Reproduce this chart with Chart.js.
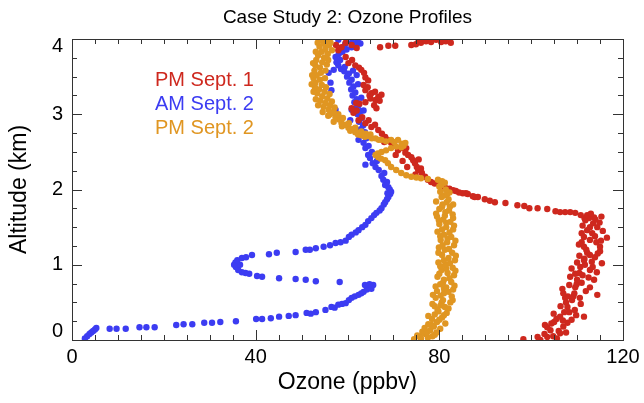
<!DOCTYPE html>
<html>
<head>
<meta charset="utf-8">
<script src="https://cdn.jsdelivr.net/npm/chart.js@4"></script>
<style>
  html, body { margin: 0; padding: 0; background: #fff; }
  #wrap { width: 644px; height: 403px; }
</style>
</head>
<body>
<div id="wrap"><canvas id="ozoneChart"></canvas></div>
<script>
// Ozone profiles, [ozone ppbv, altitude km]
const chartTitle = 'Case Study 2: Ozone Profiles';
const seriesNames = ['PM Sept. 1', 'AM Sept. 2', 'PM Sept. 2'];
const seriesColors = ['rgb(206,40,30)', 'rgb(60,60,242)', 'rgb(224,150,34)'];
const xTicks = [0, 40, 80, 120];
const yTicks = [0, 1, 2, 3, 4];

const sept1PM = [
    [98.3,0.01],[102.0,0.00],[101.4,0.04],[105.6,0.02],[103.5,0.04],[102.9,0.08],[104.8,0.05],[104.2,0.13],
    [106.0,0.12],[106.3,0.09],[107.6,0.10],[103.0,0.20],[103.5,0.17],[107.0,0.18],[104.4,0.22],[105.0,0.24],
    [107.9,0.23],[106.9,0.26],[105.5,0.28],[108.8,0.27],[106.3,0.31],[111.5,0.31],[109.8,0.33],[104.9,0.35],
    [107.2,0.37],[108.3,0.37],[109.5,0.40],[107.9,0.44],[106.4,0.45],[110.8,0.48],[107.6,0.50],[108.9,0.53],
    [107.4,0.56],[110.6,0.56],[108.0,0.58],[109.2,0.58],[114.4,0.60],[107.0,0.62],[109.4,0.62],[111.9,0.65],
    [106.8,0.68],[109.6,0.70],[112.8,0.70],[108.3,0.73],[109.9,0.74],[111.0,0.76],[110.0,0.80],[113.7,0.80],
    [112.5,0.83],[108.5,0.84],[111.2,0.86],[109.6,0.88],[110.5,0.89],[114.3,0.90],[112.8,0.93],[108.8,0.95],
    [110.7,0.97],[113.4,0.97],[111.7,1.00],[115.4,1.02],[110.0,1.03],[113.2,1.04],[111.5,1.06],[111.6,1.08],
    [113.9,1.10],[110.5,1.12],[112.8,1.13],[114.5,1.15],[112.2,1.16],[115.0,1.18],[112.0,1.20],[111.5,1.24],
    [115.0,1.24],[110.4,1.27],[114.2,1.30],[111.0,1.30],[115.2,1.32],[112.8,1.33],[111.5,1.37],[116.5,1.36],
    [113.9,1.38],[113.3,1.42],[111.0,1.42],[115.6,1.45],[112.2,1.46],[114.4,1.50],[112.8,1.50],[111.2,1.52],
    [113.5,1.55],[114.9,1.56],[111.8,1.59],[114.0,1.60],[112.6,1.62],[111.6,1.62],[113.7,1.63],[115.3,1.64],
    [110.8,1.66],[112.2,1.66],[113.0,1.68],
    [109.6,1.69],[108.5,1.70],[107.4,1.70],[106.3,1.70],[105.3,1.71],[103.5,1.74],[101.4,1.75],[99.6,1.75],
    [98.5,1.78],[97.0,1.79],[94.4,1.82],[92.1,1.83],[91.0,1.85],[89.9,1.87],[88.4,1.90],[87.7,1.90],
    [87.3,1.91],[86.2,1.94],[85.8,1.95],[85.1,1.95],[84.3,1.96],[83.6,1.98],[83.0,1.99],[82.2,2.01],
    [81.2,2.03],[80.1,2.06],[79.0,2.08],[78.2,2.10],[77.5,2.13],[76.9,2.17],[76.2,2.22],[74.8,2.20],
    [75.4,2.26],[76.0,2.28],[73.0,2.30],[75.1,2.30],[74.7,2.35],[72.0,2.38],[74.3,2.39],[75.5,2.40],
    [73.9,2.43],[73.2,2.46],[70.5,2.46],[72.6,2.49],[71.0,2.52],[71.8,2.55],[72.8,2.55],[70.3,2.58],
    [69.5,2.62],[68.0,2.63],[68.9,2.66],[68.2,2.70],[67.5,2.74],[66.7,2.79],[66.0,2.86],[65.2,2.83],
    [63.9,2.88],[64.6,2.92],[62.4,2.92],[63.2,2.96],[61.3,3.02],[62.0,3.05],[60.9,3.08],[66.3,3.08],
    [65.8,3.12],[62.6,3.14],[61.9,3.15],[63.9,3.16],[67.0,3.18],[66.1,3.19],[65.0,3.21],[66.7,3.23],
    [64.8,3.25],[67.4,3.26],[65.2,3.28],[66.0,3.30],[63.9,3.32],[64.4,3.36],[63.5,3.39],[64.5,3.45],
    [63.9,3.49],[63.6,3.55],[63.0,3.59],[62.5,3.62],[61.7,3.65],[60.2,3.68],[61.0,3.72],[59.6,3.76],
    [58.0,3.85],[58.7,3.89],[62.0,3.88],[57.5,3.92],[60.9,3.92],[59.6,3.95],
    [67.1,3.89],[68.9,3.91],[70.4,3.91],[73.9,3.92],[74.9,3.93],[76.0,3.95],[77.1,3.97],[75.5,3.98],
    [78.2,3.96],[79.3,3.99],[80.4,3.96],[81.4,3.97],[82.5,3.95]
];

const sept2AM = [
    [2.8,0.02],[3.3,0.05],[3.8,0.08],[4.2,0.10],[4.6,0.12],[5.0,0.14],[5.3,0.16],[8.2,0.15],
    [9.7,0.15],[11.7,0.15],[14.7,0.17],[16.2,0.17],[18.0,0.17],[22.7,0.20],[24.3,0.21],[26.2,0.21],
    [28.8,0.23],[30.5,0.23],[32.3,0.24],[35.7,0.25],[40.1,0.28],[41.4,0.28],[43.3,0.29],[45.1,0.31],
    [47.2,0.32],[48.7,0.33],[51.1,0.36],[52.0,0.35],[53.1,0.37],[55.2,0.40],[56.5,0.44],[57.2,0.43],
    [58.0,0.47],[58.8,0.48],[59.6,0.49],[60.3,0.53],[60.9,0.56],[61.6,0.58],[62.4,0.60],[63.0,0.62],
    [63.5,0.64],[64.2,0.67],[64.5,0.70],[65.2,0.68],[65.6,0.73],[64.8,0.74],[63.8,0.73],
    [58.3,0.77],[53.1,0.78],[50.9,0.80],[48.7,0.81],[45.1,0.82],[41.4,0.84],[40.3,0.85],[38.6,0.88],
    [37.8,0.89],[37.0,0.90],[36.2,0.93],[35.7,0.97],[35.3,1.00],[36.6,1.00],[35.6,1.03],[36.0,1.06],
    [37.0,1.09],[37.9,1.10],[39.2,1.13],[42.9,1.14],[44.6,1.16],[48.7,1.17],[50.9,1.20],[51.8,1.20],
    [53.1,1.22],[54.8,1.24],[56.2,1.26],[57.4,1.29],[58.5,1.30],[59.6,1.32],[60.3,1.37],[60.9,1.40],
    [61.8,1.43],[62.4,1.46],[63.2,1.50],[63.9,1.53],[64.5,1.58],[65.2,1.62],[65.8,1.66],[66.3,1.69],
    [67.0,1.72],[67.4,1.75],[67.9,1.80],[68.2,1.83],[68.6,1.87],[68.9,1.90],[69.3,1.94],[68.7,1.95],
    [69.5,1.97],[69.2,2.00],[68.9,2.03],[68.2,2.06],[68.6,2.10],[67.8,2.13],[67.4,2.18],[68.0,2.22],
    [66.8,2.26],[66.1,2.30],[63.9,2.33],[65.5,2.35],[66.4,2.38],[64.9,2.42],[64.5,2.46],[65.3,2.50],
    [63.9,2.55],[64.6,2.58],[63.5,2.62],[62.4,2.66],[64.1,2.68],[63.2,2.72],[63.8,2.76],[62.9,2.80],
    [63.4,2.85],[62.5,2.90],[60.6,2.92],[63.1,2.95],[62.2,3.00],[63.5,3.05],[62.8,3.04],[60.9,3.06],
    [57.4,3.06],[61.8,3.08],[62.4,3.12],[61.5,3.16],[62.0,3.20],[63.0,3.22],[61.1,3.25],[61.7,3.29],
    [56.5,3.32],[60.8,3.33],[61.3,3.37],[62.3,3.40],[60.4,3.42],[56.3,3.42],[60.9,3.46],[59.9,3.50],
    [62.0,3.52],[60.3,3.54],[55.9,3.55],[59.3,3.57],[61.2,3.58],[57.0,3.59],[58.6,3.60],[59.4,3.63],
    [58.0,3.65],[57.6,3.69],[58.4,3.72],[57.4,3.76],[58.1,3.80],[58.9,3.83],[59.8,3.86],[60.9,3.89],
    [61.8,3.91],[62.8,3.94],[59.5,3.93],[61.0,3.96],[62.2,3.97],[58.0,3.99]
];

const sept2PM = [
    [74.5,0.01],[76.0,0.02],[77.5,0.03],[75.8,0.04],[78.5,0.05],[75.2,0.06],[79.0,0.07],[77.0,0.08],
    [79.4,0.10],[77.3,0.10],[76.3,0.11],[78.0,0.13],[80.2,0.15],[76.8,0.16],[78.8,0.18],[78.3,0.20],
    [77.6,0.21],[81.3,0.22],[79.5,0.24],[80.0,0.27],[78.4,0.28],[80.6,0.30],[77.6,0.32],[81.0,0.33],
    [79.0,0.34],[81.6,0.36],[79.8,0.38],[79.6,0.40],[82.0,0.42],[81.2,0.44],[79.0,0.45],[80.3,0.46],
    [78.5,0.48],[82.4,0.50],[80.5,0.50],[80.8,0.53],[82.9,0.53],[79.2,0.56],[82.7,0.58],[80.3,0.59],
    [78.6,0.60],[81.0,0.62],[82.0,0.64],[79.5,0.65],[83.0,0.67],[81.0,0.68],[81.5,0.70],[79.2,0.71],
    [83.3,0.72],[80.2,0.74],[80.8,0.76],[82.6,0.77],[81.0,0.80],[82.2,0.82],[79.6,0.84],[83.2,0.86],
    [80.0,0.88],[81.8,0.89],[83.5,0.92],[80.5,0.93],[81.5,0.95],[82.9,0.96],[80.2,0.98],[81.3,1.00],
    [82.3,1.02],[79.8,1.03],[83.4,1.06],[81.0,1.06],[82.0,1.09],[83.6,1.12],[80.6,1.13],[82.8,1.16],
    [79.8,1.16],[81.2,1.20],[82.1,1.21],[79.9,1.23],[83.2,1.26],[80.7,1.26],[81.7,1.30],[83.5,1.32],
    [80.3,1.33],[81.8,1.35],[82.6,1.37],[80.2,1.38],[81.0,1.40],[82.2,1.43],[79.6,1.44],[83.0,1.47],
    [80.6,1.47],[81.5,1.50],[83.2,1.52],[80.0,1.54],[81.5,1.56],[82.4,1.57],[79.9,1.59],[80.8,1.60],
    [83.0,1.62],[79.5,1.64],[81.2,1.65],[82.9,1.67],[79.3,1.68],[81.3,1.70],[82.1,1.72],[80.0,1.74],
    [80.6,1.77],[82.3,1.77],[80.7,1.80],[83.0,1.80],[81.6,1.83],[79.3,1.84],[82.0,1.87],[80.5,1.90],
    [80.9,1.92],[81.7,1.94],[82.2,1.96],[80.2,1.97],[81.4,2.00],[80.0,2.04],[80.4,2.06],
    [81.2,2.09],[80.6,2.11],[79.7,2.13],[77.5,2.14],[76.0,2.15],[75.0,2.16],[73.9,2.17],[72.8,2.19],
    [71.7,2.22],[70.6,2.26],[69.5,2.30],[68.8,2.35],[68.2,2.39],[67.3,2.41],[66.7,2.43],[66.1,2.46],
    [66.6,2.48],[67.4,2.50],[68.4,2.52],[69.5,2.55],[70.6,2.57],[71.7,2.56],[72.2,2.58],[71.8,2.61],
    [72.6,2.62],[70.2,2.63],[68.4,2.64],[69.5,2.66],[71.0,2.66],[67.4,2.66],[66.8,2.66],[66.1,2.68],
    [65.3,2.68],[64.5,2.71],[65.0,2.73],[63.8,2.70],[64.0,2.74],[63.0,2.72],[62.3,2.73],[62.4,2.75],
    [61.7,2.76],[63.0,2.77],[60.6,2.78],[61.0,2.80],[61.7,2.82],[60.2,2.82],[58.8,2.84],[59.6,2.86],
    [58.7,2.88],[60.3,2.88],[57.0,2.90],[58.2,2.93],[59.0,2.95],[57.4,2.96],[55.8,2.98],[56.2,3.00],
    [58.0,3.00],[57.0,3.03],[54.6,3.03],[55.9,3.06],[57.2,3.09],[54.8,3.10],[56.2,3.12],[53.6,3.12],
    [55.2,3.15],[56.6,3.17],[54.1,3.18],[53.1,3.20],[55.6,3.21],[54.5,3.24],[56.1,3.27],[53.4,3.28],
    [55.0,3.30],[52.6,3.30],[53.8,3.33],[52.9,3.36],[55.3,3.36],[54.4,3.39],[52.2,3.40],[53.0,3.42],
    [54.0,3.46],[55.1,3.48],[52.6,3.48],[53.3,3.52],[52.3,3.52],[54.2,3.55],[52.8,3.58],[55.2,3.58],
    [54.0,3.62],[53.0,3.65],[55.5,3.66],[52.5,3.68],[54.5,3.69],[53.2,3.72],[55.8,3.72],[54.9,3.75],
    [53.6,3.78],[55.7,3.80],[54.4,3.83],[53.1,3.83],[56.6,3.85],[55.2,3.87],[53.9,3.90],[56.0,3.92],
    [54.8,3.94],[53.5,3.95],[56.3,3.95],[55.6,3.98],[54.3,3.99]
];

const toPoints = arr => arr.map(([x, y]) => ({ x: x, y: y }));
const fontFamily = '"Liberation Sans", Arial, sans-serif';

// frame, inward ticks on all four sides, y labels, title and series names (IDL style)
const idlFrame = {
    id: 'idlFrame',
    afterDraw(chart) {
        const { ctx, chartArea: a, scales: { x, y } } = chart;
        ctx.save();
        ctx.strokeStyle = '#333';
        ctx.lineWidth = 1;
        ctx.strokeRect(a.left + 0.5, a.top + 0.5, a.right - a.left, a.bottom - a.top);
        ctx.beginPath();
        for (let v = x.min; v <= x.max; v += 5) {
            const px = Math.round(x.getPixelForValue(v)) + 0.5;
            const len = xTicks.includes(v) ? 10 : 5;
            ctx.moveTo(px, a.bottom); ctx.lineTo(px, a.bottom - len);
            ctx.moveTo(px, a.top); ctx.lineTo(px, a.top + len);
        }
        for (let v = y.min; v <= y.max + 1e-9; v += 0.25) {
            const py = Math.round(y.getPixelForValue(v)) + 0.5;
            const len = yTicks.includes(v) ? 10 : 5;
            ctx.moveTo(a.left, py); ctx.lineTo(a.left + len, py);
            ctx.moveTo(a.right, py); ctx.lineTo(a.right - len, py);
        }
        ctx.stroke();

        // y tick labels, kept inside the frame height like IDL does
        ctx.fillStyle = '#000';
        ctx.font = '20px ' + fontFamily;
        ctx.textAlign = 'right';
        ctx.textBaseline = 'middle';
        yTicks.forEach(v => {
            const py = Math.min(Math.max(y.getPixelForValue(v), a.top + 7), a.bottom - 9);
            ctx.fillText(String(v), a.left - 9, py);
        });

        ctx.textAlign = 'center';
        ctx.font = '19px ' + fontFamily;
        ctx.fillText(chartTitle, (a.left + a.right) / 2, 18);

        ctx.textAlign = 'left';
        ctx.font = '20px ' + fontFamily;
        seriesNames.forEach((name, i) => {
            ctx.fillStyle = seriesColors[i];
            ctx.fillText(name, a.left + 83, a.top + 41 + i * 24);
        });
        ctx.restore();
    }
};

new Chart(document.getElementById('ozoneChart'), {
    type: 'scatter',
    data: {
        datasets: [
            { label: seriesNames[0], data: toPoints(sept1PM), backgroundColor: seriesColors[0], order: 1 },
            { label: seriesNames[1], data: toPoints(sept2AM), backgroundColor: seriesColors[1], order: 2 },
            { label: seriesNames[2], data: toPoints(sept2PM), backgroundColor: seriesColors[2], order: 0 }
        ]
    },
    options: {
        responsive: true,
        maintainAspectRatio: false,
        animation: false,
        layout: { padding: { left: 0, right: 21, top: 39, bottom: 0 } },
        elements: { point: { radius: 3.2, borderWidth: 0, hoverRadius: 3.2 } },
        scales: {
            x: {
                type: 'linear',
                min: 0,
                max: 120,
                afterBuildTicks: scale => { scale.ticks = xTicks.map(v => ({ value: v })); },
                afterFit: scale => { scale.height = 63; },
                grid: { display: false },
                border: { display: false },
                ticks: { color: '#000', padding: -3, font: { family: fontFamily, size: 20 } },
                title: {
                    display: true,
                    text: 'Ozone (ppbv)',
                    color: '#000',
                    padding: { top: 0, bottom: 7 },
                    font: { family: fontFamily, size: 23 }
                }
            },
            y: {
                type: 'linear',
                min: 0,
                max: 4,
                afterBuildTicks: scale => { scale.ticks = yTicks.map(v => ({ value: v })); },
                afterFit: scale => { scale.width = 72; },
                grid: { display: false },
                border: { display: false },
                ticks: { display: false },
                title: {
                    display: true,
                    text: 'Altitude (km)',
                    color: '#000',
                    padding: { top: 6, bottom: 0 },
                    font: { family: fontFamily, size: 23 }
                }
            }
        },
        plugins: {
            legend: { display: false },
            tooltip: { enabled: false },
            title: { display: false }
        }
    },
    plugins: [idlFrame]
});
</script>
</body>
</html>
